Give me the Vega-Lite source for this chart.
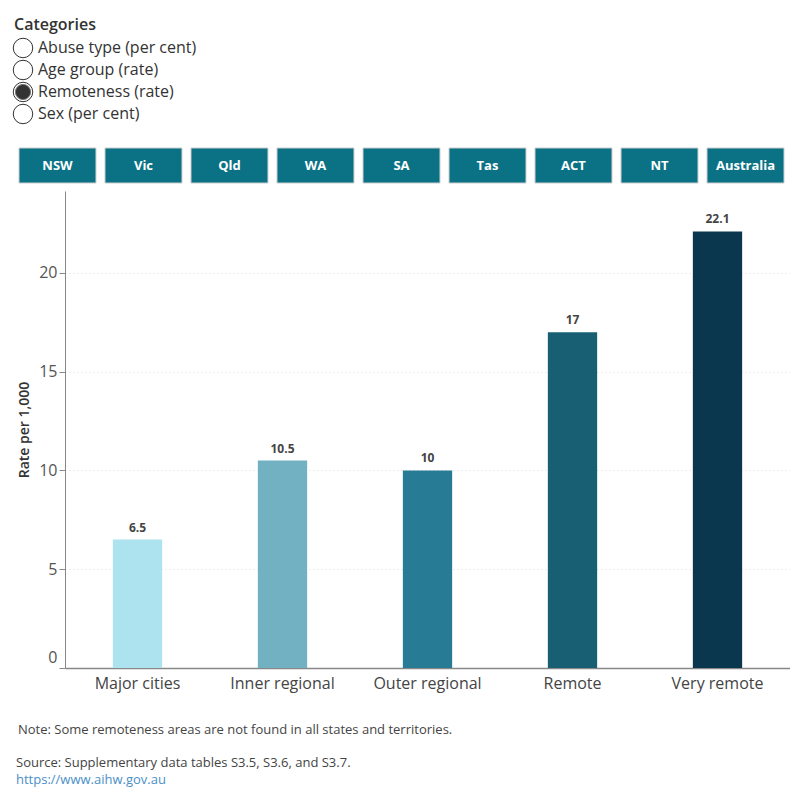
{
  "$schema": "https://vega.github.io/schema/vega-lite/v6.json",
  "background": "white",
  "padding": {"left": 11, "top": 17, "right": 0, "bottom": 0},
  "config": {"font": "Open Sans", "view": {"stroke": null}},
  "spacing": 7,
  "vconcat": [
    {
      "width": 200,
      "height": 103,
      "data": {"values": [
        {"option": "Abuse type (per cent)", "selected": false},
        {"option": "Age group (rate)", "selected": false},
        {"option": "Remoteness (rate)", "selected": true},
        {"option": "Sex (per cent)", "selected": false}
      ]},
      "encoding": {
        "y": {"field": "option", "type": "nominal", "sort": null, "axis": null,
              "scale": {"type": "point", "padding": 0.841, "align": 0.297}}
      },
      "layer": [
        {"data": {"values": [{"heading": "Categories"}]},
         "mark": {"type": "text", "align": "left", "baseline": "middle", "fontSize": 16, "fontWeight": 600, "color": "#333333"},
         "encoding": {"x": {"value": -51}, "y": {"value": -12}, "text": {"field": "heading"}}},
        {"mark": {"type": "circle", "size": 380, "fill": "white", "stroke": "#333333", "strokeWidth": 1, "opacity": 1},
         "encoding": {"x": {"value": -42}}},
        {"transform": [{"filter": "datum.selected"}],
         "mark": {"type": "circle", "size": 230, "fill": "#333333", "stroke": "#777777", "strokeWidth": 1, "opacity": 1},
         "encoding": {"x": {"value": -42}}},
        {"mark": {"type": "text", "align": "left", "baseline": "middle", "fontSize": 16, "color": "#333333"},
         "encoding": {"x": {"value": -27}, "text": {"field": "option"}}}
      ]
    },
    {
      "width": 719,
      "height": 35,
      "data": {"values": [
        {"state": "NSW"}, {"state": "Vic"}, {"state": "Qld"}, {"state": "WA"}, {"state": "SA"},
        {"state": "Tas"}, {"state": "ACT"}, {"state": "NT"}, {"state": "Australia"}
      ]},
      "encoding": {
        "x": {"field": "state", "type": "nominal", "sort": null, "axis": null,
              "scale": {"range": [-46, 719], "paddingInner": 0.105, "paddingOuter": 0}}
      },
      "layer": [
        {"mark": {"type": "bar", "color": "#0b7285", "stroke": "#cccccc", "strokeWidth": 1}},
        {"mark": {"type": "text", "color": "white", "fontSize": 13, "fontWeight": "bold", "baseline": "middle"},
         "encoding": {"text": {"field": "state"}}}
      ]
    },
    {
      "width": 725,
      "height": 477,
      "data": {"values": [
        {"area": "Major cities", "rate": 6.5},
        {"area": "Inner regional", "rate": 10.5},
        {"area": "Outer regional", "rate": 10},
        {"area": "Remote", "rate": 17},
        {"area": "Very remote", "rate": 22.1}
      ]},
      "encoding": {
        "x": {"field": "area", "type": "nominal", "sort": null, "title": null,
              "scale": {"paddingInner": 0.66, "paddingOuter": 0.33},
              "axis": {"labelAngle": 0, "labelFontSize": 16, "labelColor": "#444444", "labelPadding": 7,
                       "ticks": false, "domainColor": "#888888", "domainWidth": 1.5}},
        "y": {"field": "rate", "type": "quantitative",
              "scale": {"domain": [0, 24.15], "nice": false},
              "axis": {"title": "Rate per 1,000", "values": [0, 5, 10, 15, 20],
                       "titleFontSize": 14, "titleFontWeight": 600, "titleColor": "#333333", "titlePadding": 7,
                       "labelFontSize": 16, "labelColor": "#555555", "labelPadding": 2, "labelFlush": true, "labelFlushOffset": -3,
                       "tickSize": 6, "tickColor": "#888888", "domainColor": "#888888",
                       "gridColor": "#dddddd", "gridDash": [1, 3]}}
      },
      "layer": [
        {"mark": {"type": "bar"},
         "encoding": {"color": {"field": "area", "type": "nominal", "legend": null,
                                "scale": {"domain": ["Major cities", "Inner regional", "Outer regional", "Remote", "Very remote"],
                                          "range": ["#ace3ee", "#72b1c1", "#287b94", "#195f74", "#0a374d"]}}}},
        {"mark": {"type": "text", "baseline": "bottom", "dy": -5, "fontSize": 12, "fontWeight": "bold", "color": "#444444"},
         "encoding": {"text": {"field": "rate", "type": "quantitative"}}}
      ]
    },
    {
      "width": 700,
      "height": 100,
      "layer": [
        {"data": {"values": [{"text": "Note: Some remoteness areas are not found in all states and territories."}]},
         "mark": {"type": "text", "align": "left", "baseline": "middle", "fontSize": 13, "color": "#444444"},
         "encoding": {"x": {"value": -47}, "y": {"value": 32}, "text": {"field": "text"}}},
        {"data": {"values": [{"text": "Source: Supplementary data tables S3.5, S3.6, and S3.7."}]},
         "mark": {"type": "text", "align": "left", "baseline": "middle", "fontSize": 13, "color": "#444444"},
         "encoding": {"x": {"value": -49}, "y": {"value": 65}, "text": {"field": "text"}}},
        {"data": {"values": [{"text": "https://www.aihw.gov.au"}]},
         "mark": {"type": "text", "align": "left", "baseline": "middle", "fontSize": 13, "color": "#4a90c8"},
         "encoding": {"x": {"value": -49}, "y": {"value": 82}, "text": {"field": "text"}}},
        {"mark": {"type": "rule", "color": "#7fb3dc", "strokeWidth": 1},
         "encoding": {"x": {"value": -49}, "x2": {"value": 102}, "y": {"value": 89}}}
      ]
    }
  ]
}
